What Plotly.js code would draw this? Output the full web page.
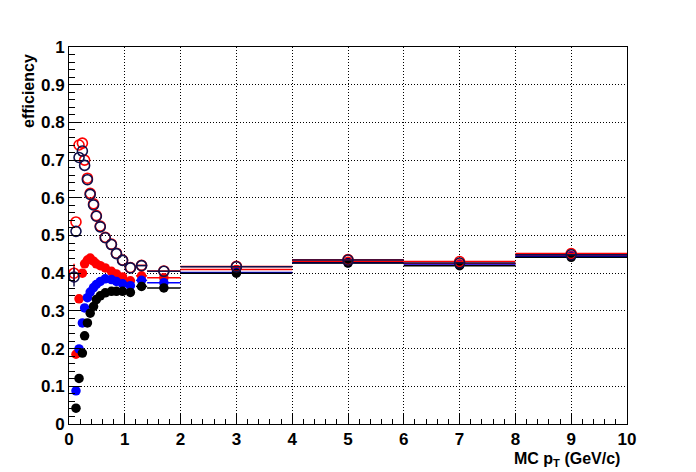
<!DOCTYPE html>
<html>
<head>
<meta charset="utf-8">
<script src="https://cdn.plot.ly/plotly-3.0.1.min.js"></script>
<style>body{margin:0;background:#fff;}</style>
</head>
<body>
<div id="c" style="width:696px;height:472px;"></div>
<script>
// MC pT bin centres (GeV/c)
const pt = [0.09, 0.125, 0.18, 0.24, 0.28, 0.33, 0.38, 0.44, 0.49, 0.56, 0.65, 0.76, 0.85, 0.96, 1.1, 1.3, 1.7, 3, 5, 7, 9];
// half bin widths drawn as horizontal bars (narrow bins hidden under markers)
const binHalf = [0, 0, 0, 0, 0, 0, 0, 0, 0, 0, 0, 0, 0, 0, 0, 0.1, 0.3, 1, 1, 1, 1];

// efficiencies
const openRed   = [0.40, 0.536, 0.74, 0.745, 0.70, 0.652, 0.612, 0.584, 0.553, 0.525, 0.495, 0.477, 0.453, 0.435, 0.415, 0.421, 0.406, 0.418, 0.436, 0.431, 0.452];
const openNavy  = [0.39, 0.511, 0.707, 0.724, 0.686, 0.648, 0.609, 0.581, 0.551, 0.523, 0.494, 0.476, 0.452, 0.434, 0.414, 0.420, 0.405, 0.417, 0.435, 0.427, 0.449];
const filledRed = [null, 0.185, 0.332, 0.400, 0.425, 0.435, 0.440, 0.432, 0.425, 0.420, 0.414, 0.405, 0.398, 0.390, 0.380, 0.393, 0.388, 0.410, 0.432, 0.425, 0.447];
const filledBlue= [null, 0.088, 0.199, 0.268, 0.308, 0.335, 0.350, 0.362, 0.370, 0.378, 0.385, 0.383, 0.378, 0.372, 0.367, 0.381, 0.375, 0.402, 0.428, 0.422, 0.445];
const filledBlack=[null, 0.042, 0.121, 0.188, 0.234, 0.268, 0.294, 0.312, 0.330, 0.340, 0.348, 0.352, 0.352, 0.352, 0.349, 0.365, 0.361, 0.400, 0.427, 0.420, 0.442];
// statistical errors (only the first bin sticks out of the marker)
const openErr   = [0.025, 0, 0, 0, 0, 0, 0, 0, 0, 0, 0, 0, 0, 0, 0, 0, 0, 0, 0, 0, 0];
const filledErr = [0, 0, 0, 0, 0, 0, 0, 0, 0, 0, 0, 0, 0, 0, 0, 0, 0, 0, 0, 0, 0];

function trace(y, color, symbol, size, lw, erry) {
  return {
    x: pt, y: y, type: 'scatter', mode: 'markers',
    marker: {symbol: symbol, size: size, color: color, line: {color: color, width: lw}},
    error_x: {type: 'data', array: binHalf, color: color, thickness: 1.5, width: 0},
    error_y: {type: 'data', array: erry, color: color, thickness: 1.5, width: 0},
    showlegend: false, hoverinfo: 'skip'
  };
}

const data = [
  trace(filledRed, '#ff0000', 'circle', 9.5, 0, filledErr),
  trace(filledBlue, '#0000ff', 'circle', 9.5, 0, filledErr),
  trace(filledBlack, '#000000', 'circle', 9.5, 0, filledErr),
  trace(openRed, '#ff0000', 'circle-open', 10, 1.6, openErr),
  trace(openNavy, '#10104a', 'circle-open', 10, 1.6, openErr)
];

const axFont = {family: 'Liberation Sans, Arial, sans-serif', size: 17, color: '#000', weight: 'bold'};

const layout = {
  width: 696, height: 472,
  margin: {l: 69, r: 69, t: 47, b: 48},
  paper_bgcolor: '#fff', plot_bgcolor: '#fff',
  xaxis: {
    range: [0, 10], dtick: 1, tick0: 0,
    showline: true, linecolor: '#000', linewidth: 1, mirror: true,
    showgrid: true, gridcolor: '#000', griddash: '1px,2px', gridwidth: 1,
    zeroline: false,
    ticks: 'inside', ticklen: 11, tickcolor: '#000', tickwidth: 1,
    minor: {ticks: 'inside', ticklen: 5, dtick: 0.2, tickcolor: '#000', showgrid: false},
    tickfont: axFont
  },
  yaxis: {
    range: [0, 1], dtick: 0.1, tick0: 0,
    showline: true, linecolor: '#000', linewidth: 1, mirror: true,
    showgrid: true, gridcolor: '#000', griddash: '1px,2px', gridwidth: 1,
    zeroline: false,
    ticks: 'inside', ticklen: 12, tickcolor: '#000', tickwidth: 1,
    minor: {ticks: 'inside', ticklen: 6, dtick: 0.02, tickcolor: '#000', showgrid: false},
    tickfont: axFont
  },
  annotations: [
    {text: '<b>efficiency</b>', xref: 'paper', yref: 'paper', x: 0, y: 1, xshift: -41, yshift: -5,
     xanchor: 'center', yanchor: 'top', textangle: -90, showarrow: false,
     font: {family: 'Liberation Sans, Arial, sans-serif', size: 16, color: '#000'}},
    {text: '<b>MC p<sub>T</sub> (GeV/c)</b>', xref: 'paper', yref: 'paper', x: 1, y: 0, xshift: -5, yshift: -24,
     xanchor: 'right', yanchor: 'top', showarrow: false,
     font: {family: 'Liberation Sans, Arial, sans-serif', size: 16, color: '#000'}}
  ]
};

Plotly.newPlot('c', data, layout, {staticPlot: true, displayModeBar: false});
</script>
</body>
</html>
